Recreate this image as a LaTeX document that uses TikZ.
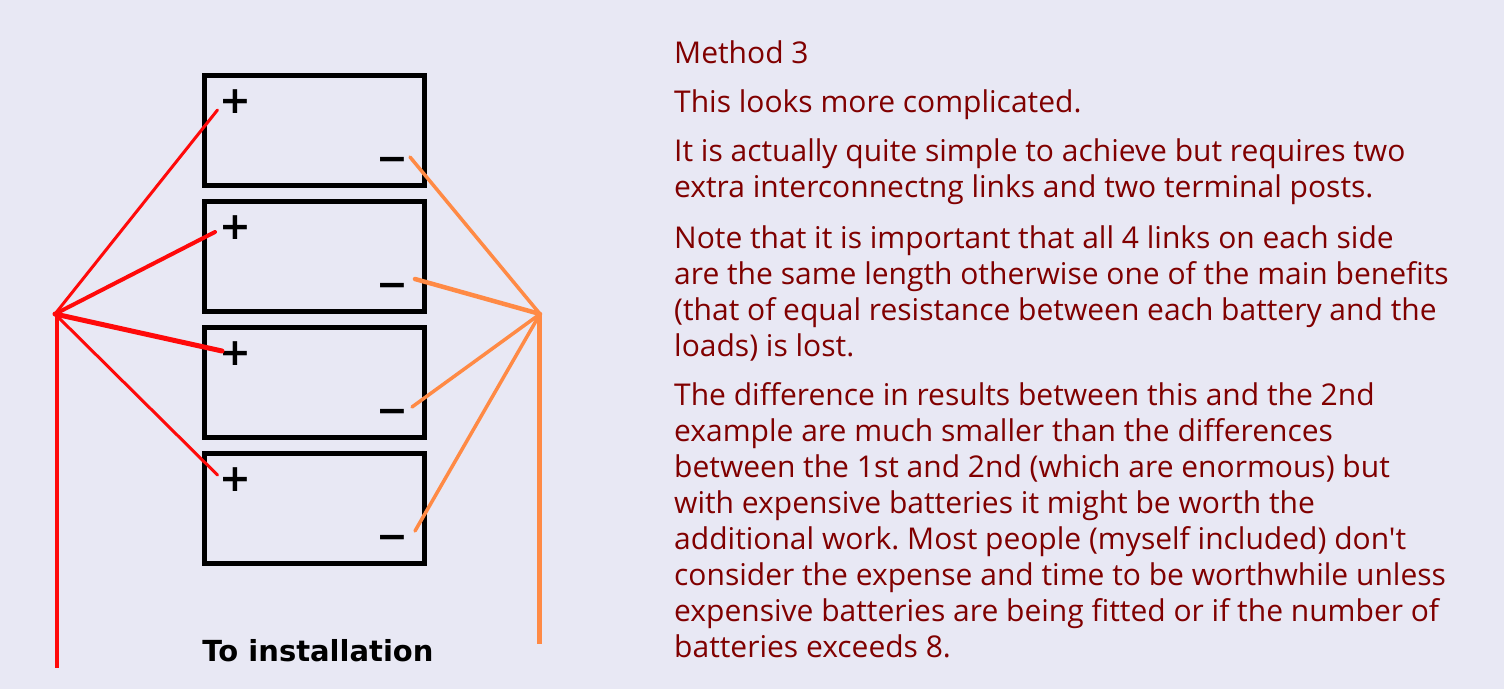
\documentclass[tikz,border=0pt]{standalone}
\usepackage{fontspec}
\newfontfamily\bodyfont{Open Sans}
\newfontfamily\signfont{DejaVu Sans}
\definecolor{bgc}{HTML}{E8E8F4}
\definecolor{txt}{HTML}{800000}
\definecolor{redw}{HTML}{FF0A0A}
\definecolor{orw}{HTML}{FF8A45}
\frenchspacing
\tikzset{
 px/.style={x=1pt,y=-1pt},
 batt/.style={draw=black,line width=5pt,minimum width=220.5pt,minimum height=110pt,inner sep=0pt,anchor=north west},
 sign/.style={font=\fontsize{38}{38}\selectfont\signfont\bfseries,inner sep=0pt},
 para/.style={anchor=north west,inner sep=0pt,text=txt,font=\fontsize{30}{36}\selectfont\bodyfont,align=left},
 redlink/.style={draw=redw,line width=3.5pt,line cap=round},
 orlink/.style={draw=orw,line width=3.5pt,line cap=round}
}
\begin{document}
\begin{tikzpicture}[px]
\useasboundingbox[fill=bgc] (0,0) rectangle (1504,689);
\foreach \n/\y in {a/72.5,b/198.5,c/324.5,d/450.5}{
  \node[batt] (\n) at (201.5,\y) {};
}
\foreach \n/\y in {a/102,b/228,c/354,d/480}{
  \node[sign] (p\n) at (235,\y) {+};
}
\foreach \n/\y in {a/164.5,b/290.5,c/416.5,d/542.5}{
  \node[sign] (m\n) at (392.5,\y) {−};
}
\coordinate (L) at (55,314);
\coordinate (R) at (540,314);
\coordinate (Lb) at (57,668);
\coordinate (Rb) at (539.5,644);
\coordinate (ra) at (217.5,110);
\coordinate (rb) at (215,232);
\coordinate (rc) at (222,351);
\coordinate (rd) at (217.5,475);
\coordinate (oa) at (410,157);
\coordinate (ob) at (415,279);
\coordinate (oc) at (412,407);
\coordinate (od) at (415,531);
\draw[redlink,line width=3pt] (L) -- (ra);
\draw[redlink,line width=4pt] (L) -- (rb);
\draw[redlink,line width=5pt] (L) -- (rc);
\draw[redlink,line width=3pt] (L) -- (rd);
\draw[redlink,line width=4.5pt,line cap=butt] (57,314) -- (Lb);
\draw[orlink] (R) -- (oa);
\draw[orlink,line width=4.5pt] (R) -- (ob);
\draw[orlink] (R) -- (oc);
\draw[orlink] (R) -- (od);
\draw[orlink,line width=4.5pt,line cap=butt] (539.5,314) -- (Rb);
\node[anchor=center,inner sep=0pt,font=\fontsize{29}{30}\selectfont\signfont\bfseries] (inst) at (318,651) {To installation};
\node[para] (t1) at (674,41) {Method 3};
\node[para] (t2) at (674,90) {This looks more complicated.};
\node[para] (t3) at (674,139) {It is actually quite simple to achieve but requires two\\extra interconnectng links and two terminal posts.};
\node[para] (t4) at (674,225) {Note that it is important that all 4 links on each side\\are the same length otherwise one of the main benefits\\(that of equal resistance between each battery and the\\loads) is lost.};
\node[para] (t5) at (674,382) {The difference in results between this and the 2nd\\example are much smaller than the differences\\between the 1st and 2nd (which are enormous) but\\with expensive batteries it might be worth the\\additional work. Most people (myself included) don't\\consider the expense and time to be worthwhile unless\\expensive batteries are being fitted or if the number of\\batteries exceeds 8.};
\end{tikzpicture}
\end{document}
